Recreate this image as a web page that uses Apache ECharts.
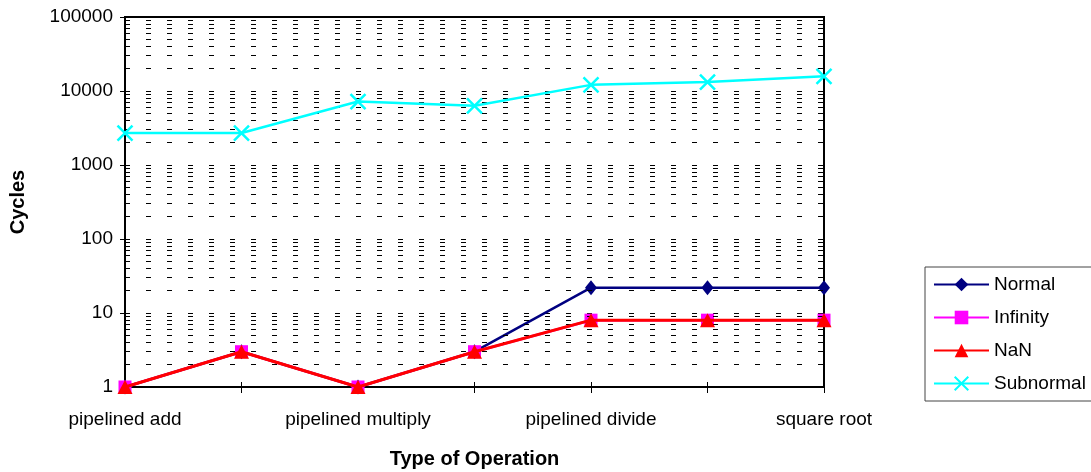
<!DOCTYPE html>
<html>
<head>
<meta charset="utf-8">
<script src="https://cdn.jsdelivr.net/npm/echarts@6/dist/echarts.min.js"></script>
<style>
  html, body { margin: 0; padding: 0; background: #fff; }
  #chart { width: 1091px; height: 472px; }
</style>
</head>
<body>
<div id="chart"></div>
<script>
// Category tick labels (every other operation is labelled on the axis)
const tickLabels = ['pipelined add', '', 'pipelined multiply', '', 'pipelined divide', '', 'square root'];

// Cycles per operation for each operand class
const normal    = [1, 3, 1, 3, 22, 22, 22];
const infinity  = [1, 3, 1, 3, 8, 8, 8];
const nan       = [1, 3, 1, 3, 8, 8, 8];
const subnormal = [2700, 2700, 7200, 6300, 12100, 13200, 15800];

// Log axis range and the in-between grid values (2..9 of each decade)
const yMin = 1, yMax = 100000;
const minorGrid = [];
for (let d = yMin; d < yMax; d *= 10) {
  for (let k = 2; k <= 9; k++) minorGrid.push(k * d);
}

const FONT = '"Liberation Sans", Arial, sans-serif';
const dash = [5, 16];
const crossPath = 'path://M0,0L10,10M10,0L0,10';

const chart = echarts.init(document.getElementById('chart'), null, { renderer: 'canvas' });

chart.setOption({
  animation: false,
  backgroundColor: '#fff',
  textStyle: { fontFamily: FONT, color: '#000' },
  grid: {
    left: 125, right: 267, top: 17, bottom: 85,
    outerBoundsMode: 'none',
    containLabel: false,
    show: true, borderColor: '#000', borderWidth: 2, backgroundColor: 'transparent'
  },
  legend: {
    orient: 'vertical',
    left: 925, top: 267,
    padding: [8, 14, 8, 8],
    itemGap: 14,
    itemWidth: 55,
    itemHeight: 17,
    borderColor: '#444', borderWidth: 1,
    textStyle: { fontFamily: FONT, fontSize: 19, color: '#000', lineHeight: 19 },
    data: ['Normal', 'Infinity', 'NaN', 'Subnormal']
  },
  xAxis: [{
    type: 'category',
    data: tickLabels,
    boundaryGap: false,
    position: 'bottom',
    name: 'Type of Operation',
    nameLocation: 'middle',
    nameGap: 62,
    nameTextStyle: { fontFamily: FONT, fontSize: 20, fontWeight: 'bold', color: '#000' },
    axisLine: { lineStyle: { color: '#000', width: 2 } },
    axisTick: { show: true, interval: 0, length: 6, lineStyle: { color: '#000', width: 1 } },
    axisLabel: { interval: 0, margin: 23, fontFamily: FONT, fontSize: 19, color: '#000' },
    splitLine: { show: false }
  }, {
    // inner half of the crossing category ticks
    type: 'category',
    data: tickLabels,
    boundaryGap: false,
    position: 'bottom',
    axisLine: { show: false },
    axisTick: { show: true, inside: true, interval: 0, length: 5, lineStyle: { color: '#000', width: 1 } },
    axisLabel: { show: false },
    splitLine: { show: false }
  }],
  yAxis: {
    type: 'log',
    logBase: 10,
    min: yMin, max: yMax,
    name: 'Cycles',
    nameLocation: 'middle',
    nameGap: 97,
    nameTextStyle: { fontFamily: FONT, fontSize: 20, fontWeight: 'bold', color: '#000' },
    axisLine: { show: true, lineStyle: { color: '#000', width: 2 } },
    axisTick: { show: true, length: 5, lineStyle: { color: '#000', width: 1 } },
    axisLabel: {
      margin: 12, fontFamily: FONT, fontSize: 19, color: '#000',
      formatter: v => String(Math.round(v))
    },
    splitLine: { show: true, lineStyle: { color: '#000', width: 1, type: dash } },
    minorTick: { show: false },
    minorSplitLine: { show: false }
  },
  series: [
    {
      // dashed grid lines between the decades
      type: 'line',
      data: [],
      z: 1,
      silent: true,
      markLine: {
        silent: true,
        symbol: ['none', 'none'],
        label: { show: false },
        lineStyle: { color: '#000', width: 1, type: dash },
        emphasis: { disabled: true },
        data: minorGrid.map(v => ({ yAxis: v }))
      }
    },
    {
      name: 'Normal', type: 'line', data: normal, z: 3,
      symbol: 'diamond', symbolSize: [12, 15],
      lineStyle: { color: '#000080', width: 2.5 },
      itemStyle: { color: '#000080' }
    },
    {
      name: 'Infinity', type: 'line', data: infinity, z: 4,
      symbol: 'rect', symbolSize: 13,
      lineStyle: { color: '#ff00ff', width: 2.5 },
      itemStyle: { color: '#ff00ff' }
    },
    {
      name: 'NaN', type: 'line', data: nan, z: 5,
      symbol: 'triangle', symbolSize: [15, 14],
      lineStyle: { color: '#ff0000', width: 3 },
      itemStyle: { color: '#ff0000' }
    },
    {
      name: 'Subnormal', type: 'line', data: subnormal, z: 6,
      symbol: crossPath, symbolSize: 15,
      lineStyle: { color: '#00ffff', width: 2.5 },
      itemStyle: { color: '#00ffff', borderColor: '#00ffff', borderWidth: 2.5 }
    }
  ]
});
</script>
</body>
</html>
